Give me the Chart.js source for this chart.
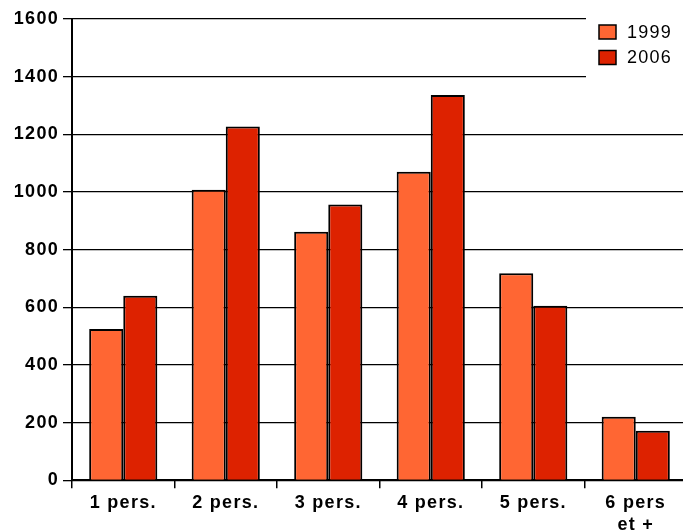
<!DOCTYPE html>
<html>
<head>
<meta charset="utf-8">
<style>
  html, body { margin: 0; padding: 0; background: #fff; overflow: hidden; }
  #wrap { width: 683px; height: 531px; overflow: hidden; }
  canvas { display: block; }
</style>
<script src="https://cdn.jsdelivr.net/npm/chart.js@4"></script>
</head>
<body>
<div id="wrap"><canvas id="c" width="700" height="531"></canvas></div>
<script>
// Household size categories and counts for the two census years
const categories = ['1 pers.', '2 pers.', '3 pers.', '4 pers.', '5 pers.', ['6 pers', 'et +']];
const seriesNames = ['1999', '2006'];
const values1999 = [525, 1008, 862, 1070, 718, 220];
const values2006 = [640, 1227, 957, 1336, 605, 172];
const yTicks = [0, 200, 400, 600, 800, 1000, 1200, 1400, 1600];

const colors = ['#FF6633', '#DD2200'];
const FONT = '"Liberation Sans", Arial, sans-serif';

// Slightly wider character spacing for all canvas text
const spacing = {
  id: 'spacing',
  beforeUpdate(chart) { chart.ctx.letterSpacing = '1.3px'; },
  beforeDraw(chart) { chart.ctx.letterSpacing = '1.3px'; }
};

// Legend box in the upper-right corner, drawn over the grid
const cornerLegend = {
  id: 'cornerLegend',
  afterDraw(chart) {
    const ctx = chart.ctx;
    ctx.save();
    ctx.fillStyle = '#fff';
    ctx.fillRect(586, 8, 120, 80);
    ctx.letterSpacing = '1.2px';
    chart.data.datasets.forEach((ds, i) => {
      const y = 25 + i * 25.5;
      ctx.fillStyle = ds.backgroundColor;
      ctx.fillRect(599, y, 17, 14);
      ctx.lineWidth = 1.5;
      ctx.strokeStyle = '#000';
      ctx.strokeRect(599, y, 17, 14);
      ctx.fillStyle = '#000';
      ctx.font = '18px ' + FONT;
      ctx.textAlign = 'left';
      ctx.textBaseline = 'middle';
      ctx.fillText(ds.label, 627, y + 8);
    });
    ctx.restore();
  }
};

new Chart(document.getElementById('c'), {
  type: 'bar',
  data: {
    labels: categories,
    datasets: [
      { label: seriesNames[0], data: values1999, backgroundColor: colors[0], borderColor: '#000', borderWidth: 2 },
      { label: seriesNames[1], data: values2006, backgroundColor: colors[1], borderColor: '#000', borderWidth: 2 }
    ]
  },
  options: {
    responsive: false,
    devicePixelRatio: 1,
    animation: false,
    layout: { padding: { top: 19, right: 13, bottom: 0, left: 0 } },
    datasets: { bar: { categoryPercentage: 0.665, barPercentage: 1.0 } },
    plugins: { legend: { display: false }, tooltip: { enabled: false } },
    scales: {
      x: {
        afterFit(scale) { scale.height = 50.7; },
        grid: { display: true, drawOnChartArea: false, drawTicks: true, tickLength: 8, color: '#000', lineWidth: 1.5, offset: true },
        border: { display: true, color: '#000', width: 2 },
        ticks: { color: '#000', padding: 4, maxRotation: 0, autoSkip: false, font: { family: FONT, size: 18, weight: 'bold', lineHeight: 1.22 } }
      },
      y: {
        min: 0,
        max: 1600,
        afterFit(scale) { scale.width = 72; },
        afterBuildTicks(scale) { scale.ticks = yTicks.map(v => ({ value: v })); },
        grid: { color: '#000', lineWidth: 1.3, tickLength: 9, tickColor: '#000' },
        border: { display: true, color: '#000', width: 2 },
        ticks: {
          color: '#000', padding: 4,
          callback: (v) => String(v),
          font: { family: FONT, size: 18, weight: 'bold' }
        }
      }
    }
  },
  plugins: [spacing, cornerLegend]
});
</script>
</body>
</html>
